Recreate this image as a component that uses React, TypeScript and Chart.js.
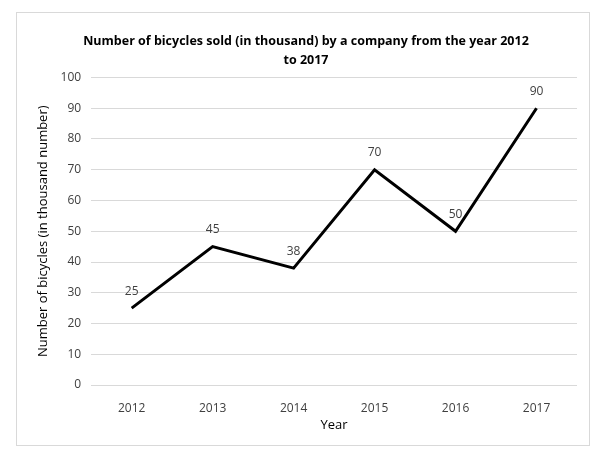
import { useEffect, useRef } from 'react'
import { Chart, ChartConfiguration, Plugin, registerables } from 'chart.js'

Chart.register(...registerables)

const years = ['2012', '2013', '2014', '2015', '2016', '2017']
const bicyclesSold = [25, 45, 38, 70, 50, 90]

const FONT = '"Open Sans", sans-serif'

// draws the value above each point
const valueLabels: Plugin = {
  id: 'valueLabels',
  afterDatasetsDraw(chart) {
    const ctx = chart.ctx
    const meta = chart.getDatasetMeta(0)
    ctx.save()
    ctx.font = `12px ${FONT}`
    ctx.fillStyle = '#404040'
    ctx.textAlign = 'center'
    ctx.textBaseline = 'bottom'
    meta.data.forEach((pt, i) => {
      ctx.fillText(String(bicyclesSold[i]), pt.x, pt.y - 11)
    })
    ctx.restore()
  }
}

export default function App() {
  const canvasRef = useRef<HTMLCanvasElement>(null)
  const chartRef = useRef<Chart | null>(null)

  useEffect(() => {
    if (!canvasRef.current) return
    if (chartRef.current) chartRef.current.destroy()

    const config: ChartConfiguration = {
      type: 'line',
      data: {
        labels: years,
        datasets: [{
          data: bicyclesSold,
          borderColor: '#000000',
          borderWidth: 3,
          pointRadius: 0,
          tension: 0,
          fill: false
        }]
      },
      options: {
        animation: false,
        responsive: true,
        maintainAspectRatio: false,
        layout: { padding: { top: 19, right: 12, bottom: 12, left: 18 } },
        plugins: {
          legend: { display: false },
          tooltip: { enabled: false },
          title: {
            display: true,
            text: ['Number of bicycles sold (in thousand) by a company from the year 2012', 'to 2017'],
            color: '#000000',
            font: { family: FONT, size: 12.5, weight: 'bold', lineHeight: 1.5 },
            padding: { top: 0, bottom: 8 }
          }
        },
        scales: {
          x: {
            offset: true,
            grid: { display: false },
            border: { display: false },
            ticks: { color: '#404040', font: { family: FONT, size: 12 }, padding: 8 },
            title: {
              display: true,
              text: 'Year',
              color: '#000000',
              font: { family: FONT, size: 13 },
              padding: { top: -6, bottom: 0 }
            }
          },
          y: {
            min: 0,
            max: 100,
            grid: { color: '#d9d9d9', drawTicks: false },
            border: { display: false },
            ticks: { stepSize: 10, color: '#404040', font: { family: FONT, size: 12 }, padding: 10 },
            title: {
              display: true,
              text: 'Number of bicycles (in thousand number)',
              color: '#000000',
              font: { family: FONT, size: 13 },
              padding: { top: 0, bottom: 0 }
            }
          }
        }
      },
      plugins: [valueLabels]
    }

    chartRef.current = new Chart(canvasRef.current, config)

    return () => {
      if (chartRef.current) {
        chartRef.current.destroy()
        chartRef.current = null
      }
    }
  }, [])

  return (
    <div style={{ position: 'fixed', left: 0, top: 0, width: 606, height: 460, background: '#ffffff' }}>
      <div style={{
        position: 'absolute', left: 16, top: 12, width: 572, height: 432,
        border: '1px solid #d9d9d9'
      }}>
        <canvas ref={canvasRef} />
      </div>
    </div>
  )
}
